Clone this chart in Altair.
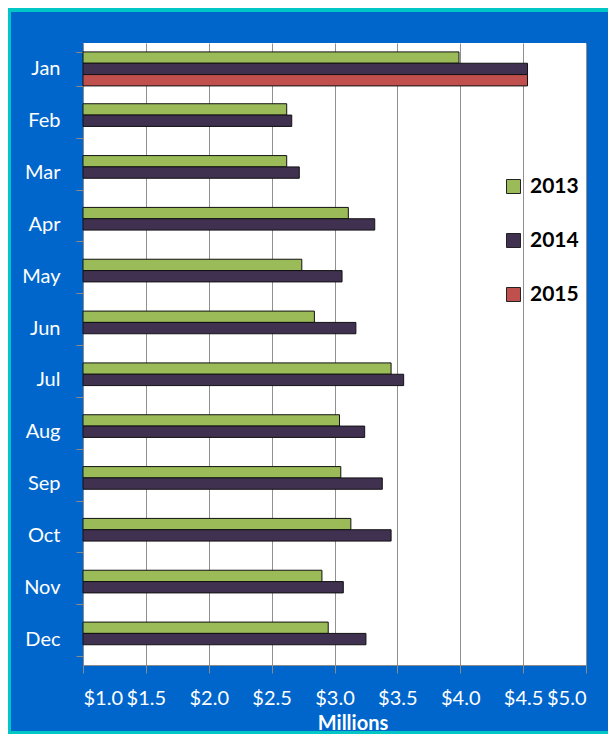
import altair as alt
import pandas as pd

months = ["Jan", "Feb", "Mar", "Apr", "May", "Jun", "Jul", "Aug", "Sep", "Oct", "Nov", "Dec"]
years = ["2013", "2014", "2015"]
sales_2013 = [3.99, 2.62, 2.62, 3.11, 2.74, 2.84, 3.45, 3.04, 3.05, 3.13, 2.90, 2.95]
sales_2014 = [4.535, 2.66, 2.72, 3.32, 3.06, 3.17, 3.55, 3.24, 3.38, 3.45, 3.07, 3.25]
sales_2015 = [4.535, None, None, None, None, None, None, None, None, None, None, None]
colors = ["#9BBB59", "#403151", "#C0504D"]
x_ticks = [1.0, 1.5, 2.0, 2.5, 3.0, 3.5, 4.0, 4.5, 5.0]

rows = []
for yr, series in zip(years, [sales_2013, sales_2014, sales_2015]):
    for m, v in zip(months, series):
        if v is not None:
            rows.append({"month": m, "year": yr, "value": v})
df = pd.DataFrame(rows)

FONT = "Lato"
BLUE = "#0066CC"
CYAN = "#00C6C6"
W, H = 503, 622
PL, PT = 75, 35
CW, CH = 600, 726

one = alt.Data(values=[{}])
strip_left = alt.Chart(one).mark_rect(color=CYAN).encode(
    x=alt.value(-PL), x2=alt.value(-PL + 3), y=alt.value(-PT), y2=alt.value(CH - PT))
strip_top = alt.Chart(one).mark_rect(color=CYAN).encode(
    x=alt.value(-PL), x2=alt.value(CW - PL), y=alt.value(-PT), y2=alt.value(-PT + 4))
strip_bottom = alt.Chart(one).mark_rect(color=CYAN).encode(
    x=alt.value(-PL), x2=alt.value(CW - PL), y=alt.value(CH - PT - 3), y2=alt.value(CH - PT))

bars = alt.Chart(df).mark_bar(stroke="#111111", strokeWidth=1).encode(
    y=alt.Y("month:N", sort=months,
            scale=alt.Scale(domain=months, paddingInner=0.344, paddingOuter=0.172),
            axis=alt.Axis(title=None, labelColor="white", labelFont=FONT, labelFontSize=20,
                          labelPadding=16, tickSize=7, tickColor="#8a8a8a", tickBand="extent",
                          domainColor="#8a8a8a", grid=False)),
    yOffset=alt.YOffset("year:N", scale=alt.Scale(domain=years)),
    x=alt.X("value:Q",
            scale=alt.Scale(domain=[1, 5], zero=False, nice=False),
            axis=alt.Axis(title="Millions", values=x_ticks, format="$.1f",
                          labelColor="white", labelFont=FONT, labelFontSize=20,
                          labelPadding=15, tickSize=8, tickColor="#8a8a8a",
                          domainColor="#8a8a8a", gridColor="#909090", grid=True,
                          titleColor="white", titleFont=FONT, titleFontSize=20,
                          titleFontWeight="bold", titleX=269.5, titleY=64,
                          titleAlign="center", titleBaseline="alphabetic")),
    x2=alt.datum(1),
    color=alt.Color("year:N", scale=alt.Scale(domain=years, range=colors),
                    legend=alt.Legend(title=None, orient="none", legendX=420, legendY=133,
                                      padding=0, symbolType="square", symbolSize=196,
                                      symbolStrokeColor="#222222", symbolStrokeWidth=1,
                                      labelFont=FONT, labelFontSize=21, labelFontWeight="bold",
                                      labelColor="black", labelOffset=6, rowPadding=32)),
)

chart = alt.layer(strip_left, strip_top, strip_bottom, bars).properties(
    width=W, height=H,
    autosize=alt.AutoSizeParams(type="none"),
    padding={"left": PL, "top": PT, "right": CW - PL - W, "bottom": CH - PT - H},
    background=BLUE,
).configure_view(fill="white", stroke=None)

chart.save("out.html", embed_options={"renderer": "svg", "actions": False})
